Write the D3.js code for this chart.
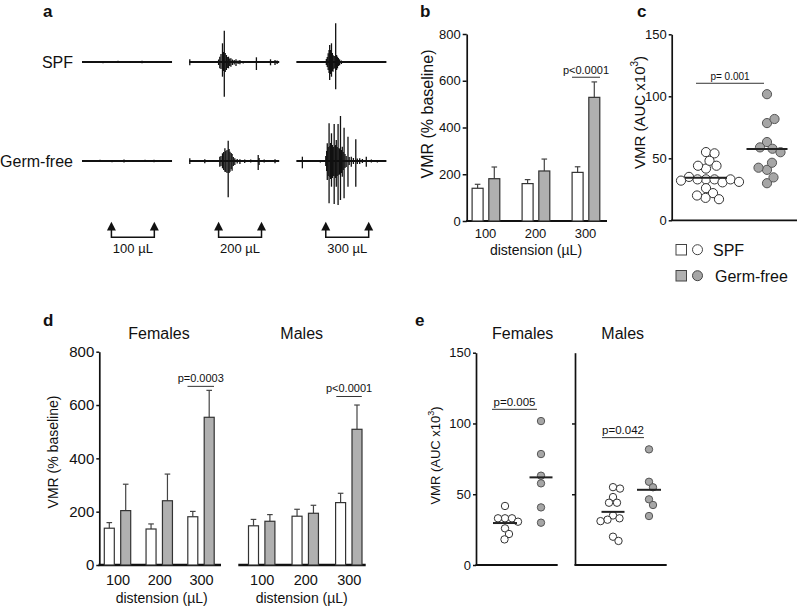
<!DOCTYPE html>
<html><head><meta charset="utf-8">
<script src="https://cdn.jsdelivr.net/npm/d3@7"></script>
<style>
body{margin:0;background:#fff}
svg text{font-family:"Liberation Sans",Arial,Helvetica,sans-serif;fill:#111}
</style></head><body>
<svg id="fig" width="800" height="611"></svg>
<script>
// ================= DATA =================
const doses = [100, 200, 300];
const groupNames = ["SPF", "Germ-free"];
const doseLabels = ["100 µL", "200 µL", "300 µL"];

// Panel a: EMG traces, spikes as [time (s), upward amplitude, downward amplitude] (a.u.)
const traceSPF100 = [[3,1,1],[7,1,1.2],[12,1.2,1],[16,1,1],[20,1.3,1.2],[25,1,1]];
const traceSPF200 = [[0.2,2.7,3.3],[5,1,1],[9.8,2.5,3],[10.2,5.3,6.3],[10.6,8,7],[11.1,18.7,14.7],[11.4,10,9],[11.7,31.3,34.7],[12.0,9,10],[12.4,7,8],[12.7,5,6],[13.1,5.3,6.3],[13.5,3.5,4],[13.9,3.7,4.7],[14.4,2.5,3],[15.0,2,2.5],[15.6,2.7,4],[16.3,1.5,2],[16.9,2,2.3],[18,1,1.5],[20,1,1],[22.4,4.7,8],[25,1,1],[27.1,2.7,3.3],[28.6,2,3],[29.3,1.5,2]];
const traceSPF300 = [[3,1,1],[7,1,1],[10.0,3,3],[10.3,5,5],[10.6,8.7,8],[10.9,12,11],[11.1,17,18],[11.4,12,12],[11.7,18.7,14.7],[12.0,9,9],[12.2,7,9.7],[12.5,6,7],[12.8,6,6],[13.1,38.7,27.3],[13.4,7,8],[13.7,5.3,6.3],[14.0,4,4],[14.4,2.7,3.3],[15,1.5,2],[18,1,1],[23,1,1],[27,1,1]];
const traceGF100 = [[2,1,1],[6,1.2,1],[10,1,1.2],[14,1.5,1.5],[17,1,1],[21,1.2,1],[24,1.3,1.3],[27,1,1]];
const traceGF200 = [[0.2,2.7,3],[5.2,1.7,2.3],[8,1,1],[10.2,4.3,5.7],[10.6,5,5],[11.1,7.7,7.3],[11.5,9,9],[11.9,12.7,10.7],[12.2,10,11],[12.6,11,12],[13.0,20.3,36.3],[13.3,12,12],[13.6,9.3,10.7],[14.0,8,8],[14.3,7,9.7],[14.7,4,5],[15.2,2.7,4],[16,2,2.5],[16.9,1.7,3],[18.5,1.5,2],[20.5,1.5,1.5],[23,6,9],[23.3,3,4],[25,1.5,1.5],[28.6,1.7,2.3]];
const traceGF300 = [[2,4.3,7.3],[5,1,1],[8,1,1.5],[9.8,5,5],[10.1,10,10],[10.3,17.7,19],[10.6,14,15],[10.9,37.7,42.3],[11.2,15,16],[11.4,18,18],[11.7,27.7,25.7],[12.0,16,17],[12.3,14,15],[12.6,37,43],[12.9,15,15],[13.1,16,17],[13.3,21,25.7],[13.6,14,15],[13.9,37,44],[14.2,13,14],[14.4,12,13],[14.7,45,39],[15.0,11,12],[15.3,14.3,15.7],[15.6,9,9],[15.9,33.3,37.3],[16.2,7,7],[16.6,5,6],[17.2,24.3,25.7],[17.6,4,4],[18.3,4.3,5.7],[19,3,3],[19.8,21.7,25.7],[20.3,2.5,3],[21.1,2.7,3],[22,2,2],[23.3,4.3,5.7],[25,1.5,1.5],[27,1,1.5]];
const distensionWindow = [9.8, 24.1]; // s

// Panel b: VMR (% baseline) mean and SEM
const bMeanSPF = [140, 160, 208];
const bSemSPF  = [17, 17, 24];
const bMeanGF  = [181, 214, 529];
const bSemGF   = [50, 51, 66];
const bTicks = [0, 200, 400, 600, 800];
const bP = "p<0.0001";
const bBracket = 615;

// Panel d: by sex
const dFemMeanSPF = [138, 135, 181];
const dFemSemSPF  = [21, 19, 20];
const dFemMeanGF  = [204, 241, 554];
const dFemSemGF   = [99, 100, 101];
const dMalMeanSPF = [147, 183, 234];
const dMalSemSPF  = [24, 26, 35];
const dMalMeanGF  = [164, 194, 509];
const dMalSemGF   = [25, 30, 91];
const dP = ["p=0.0003", "p<0.0001"];
const dBracket = [670, 632];

// Panel e: AUC (x10^3), individual animals
const eFemSPF = [41.7, 33, 33, 33, 30.6, 25.9, 21.9, 18.1];
const eFemGF  = [101.7, 78.4, 63.1, 57.7, 40.7, 29.9];
const eMalSPF = [55, 54, 48, 44, 44, 35, 33, 32, 31, 20, 17];
const eMalGF  = [81.7, 58.8, 54.9, 46.4, 42.4, 34.6];
const eP = ["p=0.005", "p=0.042"];
const eBracket = [110, 90];

// Panel c: all animals
const cSPF = eFemSPF.concat(eMalSPF);
const cGF  = eFemGF.concat(eMalGF);
const cP = "p= 0.001";
const cBracket = 110.5;
const aucTicks = [0, 50, 100, 150];

// ================= DRAW =================
const FONT = '"Liberation Sans",Arial,Helvetica,sans-serif';
const INK = "#111";
const GRAYFILL = "#b0b0b0";
const svg = d3.select("#fig");

function txt(x, y, s, size, anchor, weight) {
  return svg.append("text").attr("x", x).attr("y", y).attr("font-size", size)
    .attr("text-anchor", anchor || "start").attr("font-weight", weight || "normal").text(s);
}
function vtxt(x, y, s, size) {
  return svg.append("text").attr("transform", `translate(${x},${y}) rotate(-90)`)
    .attr("font-size", size).attr("text-anchor", "middle").attr("dominant-baseline", "central").text(s);
}
function yAxis(scale, x, ticks, fs, showLabels, tickLen) {
  const ax = d3.axisLeft(scale).tickValues(ticks).tickSize(tickLen || 4).tickSizeOuter(0).tickPadding(2);
  if (!showLabels) ax.tickFormat("");
  const a = svg.append("g").attr("transform", `translate(${x},0)`).call(ax);
  a.attr("font-family", FONT).attr("font-size", fs);
  a.select(".domain").attr("stroke", INK).attr("stroke-width", 1.7);
  a.selectAll(".tick line").attr("stroke", INK).attr("stroke-width", 1.5);
  a.selectAll(".tick text").attr("fill", INK);
  return a;
}
function hline(x1, x2, y, w, c) {
  svg.append("line").attr("x1", x1).attr("x2", x2).attr("y1", y).attr("y2", y)
    .attr("stroke", c || INK).attr("stroke-width", w || 1);
}
function xLabels(scale, y, fs) {
  const ax = d3.axisBottom(scale).tickSize(0).tickPadding(0);
  const a = svg.append("g").attr("transform", `translate(0,${y})`).call(ax);
  a.attr("font-family", FONT).attr("font-size", fs);
  a.select(".domain").remove();
  a.selectAll(".tick text").attr("fill", INK).attr("dy", "0.71em");
}
function bars(xs, y, means, sems, off, w, fill) {
  const g = svg.append("g");
  doses.forEach((d, i) => {
    const cx = xs(d) + off;
    g.append("line").attr("x1", cx).attr("x2", cx).attr("y1", y(means[i])).attr("y2", y(means[i] + sems[i]))
      .attr("stroke", "#444").attr("stroke-width", 1.2);
    g.append("line").attr("x1", cx - 2.8).attr("x2", cx + 2.8).attr("y1", y(means[i] + sems[i])).attr("y2", y(means[i] + sems[i]))
      .attr("stroke", "#444").attr("stroke-width", 1.2);
    g.append("rect").attr("x", cx - w / 2).attr("width", w).attr("y", y(means[i]))
      .attr("height", y(0) - y(means[i])).attr("fill", fill).attr("stroke", "#333").attr("stroke-width", 1.2);
  });
}
function bracket(x1, x2, y, label, fs, gap) {
  hline(x1, x2, y, 1, "#333");
  txt((x1 + x2) / 2, y - (gap || 3.5), label, fs, "middle");
}
function swarm(values, cx, yScale, r) {
  const pts = [];
  values.forEach(v => {
    const y = yScale(v);
    let k = 0, x = cx;
    const minD = 2 * r * 0.92;
    while (k < 600) {
      const off = k === 0 ? 0 : (k % 2 ? 1 : -1) * Math.ceil(k / 2) * 0.5;
      x = cx + off;
      if (pts.every(p => (p.x - x) ** 2 + (p.y - y) ** 2 >= minD * minD)) break;
      k++;
    }
    pts.push({ v, x, y });
  });
  return pts;
}
function dots(values, cx, yScale, r, fill, stroke, halfW) {
  const pts = swarm(values, cx, yScale, r);
  svg.append("g").selectAll("circle").data(pts).join("circle")
    .attr("cx", d => d.x).attr("cy", d => d.y).attr("r", r)
    .attr("fill", fill).attr("stroke", stroke).attr("stroke-width", 1);
  const m = yScale(d3.mean(values));
  hline(cx - halfW, cx + halfW, m, 2, "#222");
}

// ----- panel labels -----
txt(43, 17, "a", 17, "start", "bold");
txt(420, 17, "b", 17, "start", "bold");
txt(637, 17, "c", 17, "start", "bold");
txt(43, 326, "d", 17, "start", "bold");
txt(415, 326, "e", 17, "start", "bold");

// ----- panel a -----
const seg = d3.scaleBand().domain(doses).range([82, 386.4]).paddingInner(0.16).paddingOuter(0);
const tScale = d3.scaleLinear().domain([0, 30]).range([0, seg.bandwidth()]);
const amp = d3.scaleLinear().domain([0, 50]).range([0, 50]);
const rows = [
  { name: "SPF", y: 62, traces: [traceSPF100, traceSPF200, traceSPF300] },
  { name: "Germ-free", y: 161, traces: [traceGF100, traceGF200, traceGF300] }
];
rows.forEach(row => {
  txt(73, row.y + 5.7, row.name, 16, "end");
  doses.forEach((d, i) => {
    const x0 = seg(d);
    svg.append("line").attr("x1", x0).attr("x2", x0 + tScale(30)).attr("y1", row.y).attr("y2", row.y)
      .attr("stroke", INK).attr("stroke-width", 2.2);
    svg.append("g").selectAll("line").data(row.traces[i]).join("line")
      .attr("x1", s => x0 + tScale(s[0])).attr("x2", s => x0 + tScale(s[0]))
      .attr("y1", s => row.y - amp(s[1])).attr("y2", s => row.y + amp(s[2]))
      .attr("stroke", INK).attr("stroke-width", 1.3);
  });
});
// distension arrows
doses.forEach((d, i) => {
  const xa = seg(d) + tScale(distensionWindow[0]);
  const xb = seg(d) + tScale(distensionWindow[1]);
  const yTip = 221.7, yBase = 230, yLine = 237.3;
  svg.append("path").attr("d", `M${xa},${yBase}V${yLine}H${xb}V${yBase}`)
    .attr("fill", "none").attr("stroke", INK).attr("stroke-width", 1.5);
  [xa, xb].forEach(x => {
    svg.append("path").attr("d", `M${x},${yTip}L${x + 4.5},${yBase + 0.5}L${x - 4.5},${yBase + 0.5}Z`).attr("fill", INK);
  });
  txt((xa + xb) / 2, 253, doseLabels[i], 13, "middle");
});

// ----- panel b -----
const yb = d3.scaleLinear().domain([0, 800]).range([221, 34]);
const xb = d3.scalePoint().domain(doses).range([485, 585]);
yAxis(yb, 466.7, bTicks, 13, true, 4);
hline(466, 607, 221, 2.2);
xLabels(xb, 228.5, 13);
txt(536, 255, "distension (µL)", 14, "middle");
vtxt(427, 114, "VMR (% baseline)", 16);
bars(xb, yb, bMeanSPF, bSemSPF, -7.4, 11, "#fff");
bars(xb, yb, bMeanGF, bSemGF, 9.3, 11, GRAYFILL);
bracket(xb(300) - 13, xb(300) + 15, yb(bBracket), bP, 11, 3.5);

// ----- panel c -----
const yc = d3.scaleLinear().domain([0, 150]).range([220.3, 34.3]);
const xc = d3.scalePoint().domain(groupNames).range([706, 767]);
yAxis(yc, 671.7, aucTicks, 13, true, 3);
hline(671, 797, 220.3, 1.8);
const vc = svg.append("text").attr("transform", `translate(639,112.5) rotate(-90)`)
  .attr("font-size", 15).attr("text-anchor", "middle").attr("dominant-baseline", "central");
vc.append("tspan").text("VMR (AUC x10");
vc.append("tspan").attr("font-size", 10).attr("dy", -5).text("3");
vc.append("tspan").attr("dy", 5).text(")");
dots(cSPF, xc("SPF"), yc, 4.6, "#fff", "#333", 21);
dots(cGF, xc("Germ-free"), yc, 4.6, "#a6a6a6", "#555", 20.5);
bracket(xc("SPF") - 10, xc("Germ-free") - 3, yc(cBracket), cP, 10, 3.5);
// legend
[["#fff", "#444", "SPF", 244.5], [GRAYFILL, "#444", "Germ-free", 270.5]].forEach(([f, s, name, y], i) => {
  svg.append("rect").attr("x", 676).attr("y", y).attr("width", 10.5).attr("height", 10.5).attr("fill", f).attr("stroke", s).attr("stroke-width", 1);
  svg.append("circle").attr("cx", 697.5).attr("cy", y + 5.2).attr("r", 5).attr("fill", i ? "#a6a6a6" : "#fff").attr("stroke", s).attr("stroke-width", 1);
  txt(i ? 715 : 713, y + 11.5, name, 16, "start");
});

// ----- panel d -----
const yd = d3.scaleLinear().domain([0, 800]).range([565, 351.7]);
const xdF = d3.scalePoint().domain(doses).range([117.5, 201]);
const xdM = d3.scalePoint().domain(doses).range([261.7, 348.8]);
yAxis(yd, 99.3, bTicks, 15, true, 3);
hline(98.5, 221, 565, 2.6);
hline(238.3, 365.7, 565, 2.6);
xLabels(xdF, 575, 14.5);
xLabels(xdM, 575, 14.5);
txt(161.7, 603, "distension (µL)", 14, "middle");
txt(301.7, 603, "distension (µL)", 14, "middle");
txt(159, 338.7, "Females", 16, "middle");
txt(301.7, 338.7, "Males", 16, "middle");
vtxt(53, 452, "VMR (% baseline)", 14);
bars(xdF, yd, dFemMeanSPF, dFemSemSPF, -8.2, 10, "#fff");
bars(xdF, yd, dFemMeanGF, dFemSemGF, 8.2, 10, GRAYFILL);
bars(xdM, yd, dMalMeanSPF, dMalSemSPF, -8.2, 10, "#fff");
bars(xdM, yd, dMalMeanGF, dMalSemGF, 8.2, 10, GRAYFILL);
bracket(xdF(300) - 13.5, xdF(300) + 13, yd(dBracket[0]), dP[0], 11, 4.5);
bracket(xdM(300) - 12.5, xdM(300) + 13, yd(dBracket[1]), dP[1], 11, 4.5);

// ----- panel e -----
const ye = d3.scaleLinear().domain([0, 150]).range([565, 352.7]);
const xeF = d3.scalePoint().domain(groupNames).range([505, 541]);
const xeM = d3.scalePoint().domain(groupNames).range([613, 649]);
yAxis(ye, 476, aucTicks, 13, true, 3);
hline(475.5, 557.7, 565, 1.8);
yAxis(ye, 575, [50, 100], 13, false, 3);
hline(574.5, 666.7, 565, 1.8);
txt(522.7, 338.7, "Females", 16, "middle");
txt(622.7, 338.7, "Males", 16, "middle");
const ve = svg.append("text").attr("transform", `translate(435,455.5) rotate(-90)`)
  .attr("font-size", 13).attr("text-anchor", "middle").attr("dominant-baseline", "central");
ve.append("tspan").text("VMR (AUC x10");
ve.append("tspan").attr("font-size", 9).attr("dy", -4).text("3");
ve.append("tspan").attr("dy", 4).text(")");
dots(eFemSPF, xeF("SPF"), ye, 3.7, "#fff", "#333", 12);
dots(eFemGF, xeF("Germ-free"), ye, 3.7, "#a6a6a6", "#555", 11.5);
dots(eMalSPF, xeM("SPF"), ye, 3.7, "#fff", "#333", 11.5);
dots(eMalGF, xeM("Germ-free"), ye, 3.7, "#a6a6a6", "#555", 12);
bracket(xeF("SPF") - 13, xeF("Germ-free") - 4, ye(eBracket[0]), eP[0], 11.5, 3.5);
bracket(xeM("SPF") - 11, xeM("Germ-free") - 5, ye(eBracket[1]), eP[1], 11.5, 3.5);
</script>
</body></html>
